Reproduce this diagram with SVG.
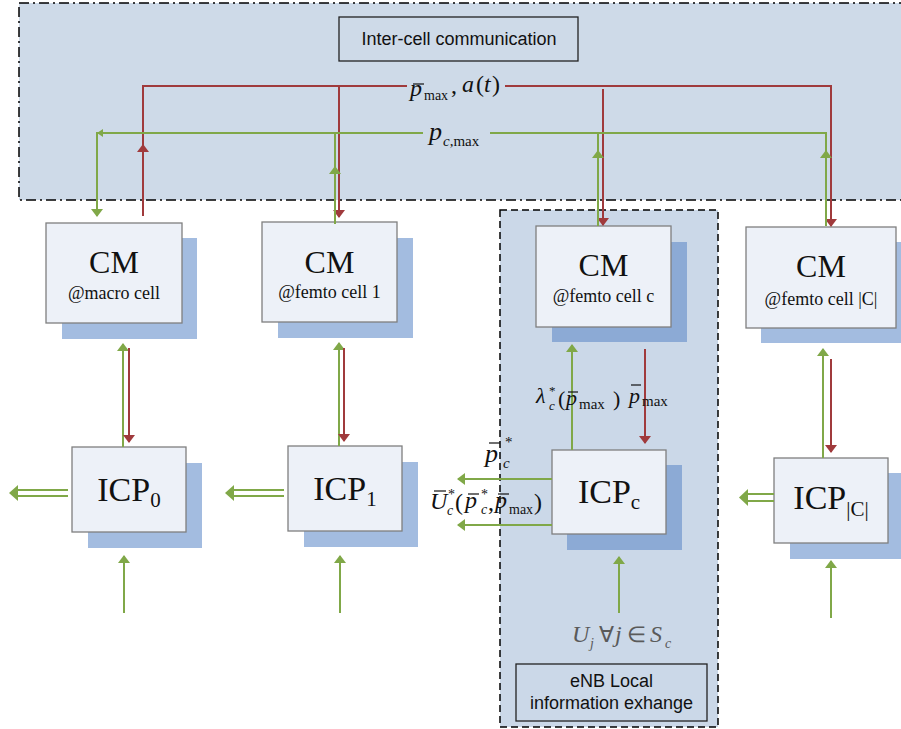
<svg xmlns="http://www.w3.org/2000/svg" width="901" height="729" viewBox="0 0 901 729">
  <style>
    .region { fill: #cedae8; stroke: #000; stroke-width: 1.5; }
    .interRegion { stroke-dasharray: 10 4 2 4; }
    .localRegion { stroke-dasharray: 7 4; fill: #cbd8e8; }
    .label-box { fill: none; stroke: #222; stroke-width: 1.3; }
    .box { fill: #edf1f8; stroke: #7f7f7f; stroke-width: 1.3; }
    .shadow { fill: #a3bce0; }
    .shadow-dark { fill: #8caad5; }
    .sans { font-family: "Liberation Sans", Arial, sans-serif; fill: #111; }
    .serif { font-family: "Liberation Serif", "Times New Roman", serif; fill: #111; }
    .it { font-style: italic; }
    .cm { font-size: 32px; }
    .cell { font-size: 18px; }
    .icp { font-size: 34px; }
    .red { stroke: #a03a3c; stroke-width: 2; fill: none; }
    .green { stroke: #80a848; stroke-width: 2; fill: none; }
    .gfill { fill: #80a848; }
    .bar { stroke: #111; stroke-width: 1.2; }
    .gray { fill: #5a5a5a; }
  </style>
  <defs>
    <marker id="arrRed" markerUnits="userSpaceOnUse" viewBox="0 0 8 12" refX="7" refY="6" markerWidth="8" markerHeight="12" orient="auto">
      <path d="M0,0 L8,6 L0,12 z" fill="#a03a3c"/>
    </marker>
    <marker id="arrGreen" markerUnits="userSpaceOnUse" viewBox="0 0 8 12" refX="7" refY="6" markerWidth="8" markerHeight="12" orient="auto">
      <path d="M0,0 L8,6 L0,12 z" fill="#80a848"/>
    </marker>
  </defs>

  <!-- communication areas -->
  <rect id="inter-cell-area" class="region interRegion" x="19" y="3" width="900" height="197"/>
  <rect id="local-area" class="region localRegion" x="500" y="210" width="218" height="517"/>

  <g id="inter-cell-title">
    <rect class="label-box" x="339" y="17" width="239" height="44"/>
    <text class="sans" x="459" y="45" font-size="18" text-anchor="middle">Inter-cell communication</text>
  </g>

  <g id="local-title">
    <rect class="label-box" x="516" y="664" width="191" height="57"/>
    <text class="sans" x="611.5" y="687" font-size="18" text-anchor="middle">eNB Local</text>
    <text class="sans" x="611.5" y="709" font-size="18" text-anchor="middle">information exhange</text>
  </g>

  <!-- CM nodes -->
  <g id="cm-macro">
    <rect class="shadow" x="62" y="238" width="135" height="101"/>
    <rect class="box" x="46" y="223" width="136" height="100"/>
    <text class="serif cm" x="114" y="273" text-anchor="middle">CM</text>
    <text class="serif cell" x="114" y="299" text-anchor="middle">@macro cell</text>
  </g>
  <g id="cm-femto-1">
    <rect class="shadow" x="278" y="238" width="135" height="100"/>
    <rect class="box" x="262" y="222" width="135" height="100"/>
    <text class="serif cm" x="329.5" y="273" text-anchor="middle">CM</text>
    <text class="serif cell" x="329.5" y="298" text-anchor="middle">@femto cell 1</text>
  </g>
  <g id="cm-femto-c">
    <rect class="shadow-dark" x="552" y="242" width="135" height="100"/>
    <rect class="box" x="536" y="226" width="135" height="101"/>
    <text class="serif cm" x="603.5" y="276" text-anchor="middle">CM</text>
    <text class="serif cell" x="603.5" y="302" text-anchor="middle">@femto cell c</text>
  </g>
  <g id="cm-femto-C">
    <rect class="shadow" x="761" y="242" width="150" height="101"/>
    <rect class="box" x="746" y="227" width="150" height="101"/>
    <text class="serif cm" x="821" y="277" text-anchor="middle">CM</text>
    <text class="serif cell" x="821" y="305" text-anchor="middle">@femto cell |C|</text>
  </g>

  <!-- ICP nodes -->
  <g id="icp-0">
    <rect class="shadow" x="88" y="463" width="114" height="85"/>
    <rect class="box" x="72" y="447" width="114" height="85"/>
    <text class="serif icp" x="129" y="501" text-anchor="middle">ICP<tspan font-size="21" dy="6">0</tspan></text>
  </g>
  <g id="icp-1">
    <rect class="shadow" x="304" y="462" width="114" height="85"/>
    <rect class="box" x="288" y="446" width="114" height="85"/>
    <text class="serif icp" x="345" y="500" text-anchor="middle">ICP<tspan font-size="21" dy="6">1</tspan></text>
  </g>
  <g id="icp-c">
    <rect class="shadow-dark" x="567" y="465" width="115" height="85"/>
    <rect class="box" x="552" y="450" width="114" height="84"/>
    <text class="serif icp" x="609" y="503" text-anchor="middle">ICP<tspan font-size="21" dy="6">c</tspan></text>
  </g>
  <g id="icp-C">
    <rect class="shadow" x="790" y="473" width="120" height="86"/>
    <rect class="box" x="774" y="458" width="114" height="85"/>
    <text class="serif icp" x="831" y="509" text-anchor="middle">ICP<tspan font-size="21" dy="7">|C|</tspan></text>
  </g>

  <!-- connectors -->
  <g id="connectors">
    <!-- pmax, a(t) broadcast -->
    <path class="red" d="M143,216 V145" marker-end="url(#arrRed)"/>
    <path class="red" d="M143,147 V86 H407"/>
    <path class="red" d="M339,86 V217" marker-end="url(#arrRed)"/>
    <path class="red" d="M505,86 H831 V226" marker-end="url(#arrRed)"/>
    <path class="red" d="M603,89 V225" marker-end="url(#arrRed)"/>

    <!-- pc,max reports -->
    <path class="green" d="M423,133 H97 V216" marker-end="url(#arrGreen)"/>
    <polygon class="gfill" points="97,133 103,129 103,137"/>
    <path class="green" d="M335,224 V167" marker-end="url(#arrGreen)"/>
    <path class="green" d="M335,169 V133"/>
    <path class="green" d="M598,226 V151" marker-end="url(#arrGreen)"/>
    <path class="green" d="M598,153 V133"/>
    <path class="green" d="M826,226 V151" marker-end="url(#arrGreen)"/>
    <path class="green" d="M826,153 V133 H490"/>

    <!-- CM <-> ICP -->
    <path class="green" d="M123,447 V344" marker-end="url(#arrGreen)"/>
    <path class="red" d="M129,348 V442" marker-end="url(#arrRed)"/>
    <path class="green" d="M339,446 V343" marker-end="url(#arrGreen)"/>
    <path class="red" d="M344,348 V441" marker-end="url(#arrRed)"/>
    <path class="green" d="M572,450 V345" marker-end="url(#arrGreen)"/>
    <path class="red" d="M645,349 V443" marker-end="url(#arrRed)"/>
    <path class="green" d="M823,458 V349" marker-end="url(#arrGreen)"/>
    <path class="red" d="M831,359 V452" marker-end="url(#arrRed)"/>

    <!-- ICPc outputs -->
    <path class="green" d="M552,479 H458" marker-end="url(#arrGreen)"/>
    <path class="green" d="M552,525 H458" marker-end="url(#arrGreen)"/>

    <!-- ICP double outputs -->
    <path class="green" d="M68,490 H15 M68,496 H15"/>
    <polygon class="gfill" points="9,493 18,485 18,501"/>
    <path class="green" d="M284,490 H231 M284,496 H231"/>
    <polygon class="gfill" points="225,493 234,485 234,501"/>
    <path class="green" d="M774,494 H745 M774,501 H745"/>
    <polygon class="gfill" points="739,497.5 748,489 748,506"/>

    <!-- local inputs -->
    <path class="green" d="M124,613 V556" marker-end="url(#arrGreen)"/>
    <path class="green" d="M340,613 V556" marker-end="url(#arrGreen)"/>
    <path class="green" d="M619,613 V557" marker-end="url(#arrGreen)"/>
    <path class="green" d="M831,618 V561" marker-end="url(#arrGreen)"/>
  </g>

  <!-- formula labels -->
  <g id="label-pmax-at">
    <text class="serif it" x="410" y="96" font-size="24">p</text>
    <line class="bar" x1="413" y1="84" x2="424" y2="84"/>
    <text class="serif" x="424" y="100" font-size="14">max</text>
    <text class="serif" x="451" y="93" font-size="24">,</text>
    <text class="serif it" x="462" y="92" font-size="24">a</text>
    <text class="serif" x="476" y="92" font-size="24">(</text>
    <text class="serif it" x="484" y="92" font-size="24">t</text>
    <text class="serif" x="492" y="92" font-size="24">)</text>
  </g>
  <g id="label-pcmax">
    <text class="serif it" x="429" y="140" font-size="26">p</text>
    <text class="serif" x="443" y="146" font-size="15"><tspan class="it">c</tspan>,max</text>
  </g>
  <g id="label-lambda">
    <text class="serif it" x="536" y="403" font-size="22">λ</text>
    <text class="serif" x="549" y="395" font-size="13">*</text>
    <text class="serif it" x="549" y="410" font-size="13">c</text>
    <text class="serif" x="558" y="406" font-size="22">(</text>
    <text class="serif it" x="566" y="405" font-size="22">p</text>
    <line class="bar" x1="568" y1="392" x2="578" y2="392"/>
    <text class="serif" x="579" y="409" font-size="15">max</text>
    <text class="serif" x="613" y="406" font-size="22">)</text>
    <text class="serif it" x="629" y="403" font-size="22">p</text>
    <line class="bar" x1="631" y1="385" x2="641" y2="385"/>
    <text class="serif" x="642" y="406" font-size="15">max</text>
  </g>
  <g id="label-pc-star">
    <text class="serif it" x="485" y="462" font-size="26">p</text>
    <line class="bar" x1="489" y1="443" x2="500" y2="443"/>
    <text class="serif" x="505" y="447" font-size="15">*</text>
    <text class="serif it" x="503" y="468" font-size="15">c</text>
  </g>
  <g id="label-U">
    <text class="serif it" x="430" y="509" font-size="24">U</text>
    <line class="bar" x1="434" y1="491" x2="446" y2="491"/>
    <text class="serif" x="448" y="499" font-size="14">*</text>
    <text class="serif it" x="447" y="515" font-size="14">c</text>
    <text class="serif" x="455" y="510" font-size="24">(</text>
    <text class="serif it" x="465" y="508" font-size="24">p</text>
    <line class="bar" x1="468" y1="494" x2="479" y2="494"/>
    <text class="serif" x="481" y="499" font-size="14">*</text>
    <text class="serif it" x="481" y="514" font-size="14">c</text>
    <text class="serif" x="488" y="510" font-size="24">,</text>
    <text class="serif it" x="495" y="508" font-size="24">p</text>
    <line class="bar" x1="498" y1="494" x2="509" y2="494"/>
    <text class="serif" x="509" y="514" font-size="14">max</text>
    <text class="serif" x="534" y="510" font-size="24">)</text>
  </g>
  <g id="label-Uj">
    <text class="serif it gray" x="572" y="642" font-size="24">U</text>
    <text class="serif it gray" x="590" y="648" font-size="14">j</text>
    <text class="serif gray" x="599" y="642" font-size="22">∀</text>
    <text class="serif it gray" x="615" y="642" font-size="24">j</text>
    <text class="serif gray" x="627" y="642" font-size="22">∈</text>
    <text class="serif it gray" x="650" y="642" font-size="24">S</text>
    <text class="serif it gray" x="665" y="648" font-size="14">c</text>
  </g>
</svg>
